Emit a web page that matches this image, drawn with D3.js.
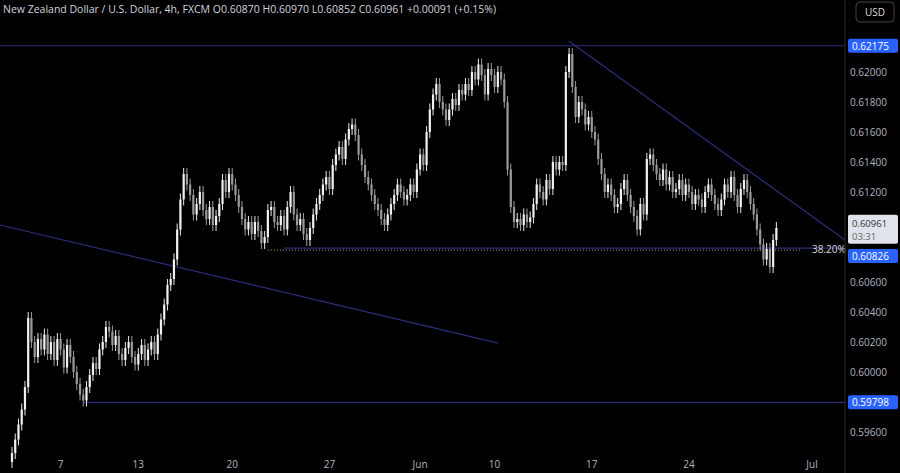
<!DOCTYPE html><html><head><meta charset="utf-8"><script src="https://cdn.jsdelivr.net/npm/d3@7"></script>
<style>body{margin:0;background:#000}svg{display:block}text{font-family:"Open Sans",sans-serif}</style></head><body><svg width="900" height="473"></svg>
<script>
const closes=[0.5946,0.5955,0.5965,0.5975,0.5990,0.6036,0.6020,0.6010,0.6022,0.6015,
0.6025,0.6012,0.6020,0.6008,0.6022,0.6015,0.6003,0.6018,0.6010,0.6000,
0.5992,0.5985,0.5981,0.5990,0.5998,0.6006,0.6002,0.6015,0.6020,0.6030,
0.6027,0.6018,0.6024,0.6012,0.6008,0.6016,0.6020,0.6010,0.6005,0.6012,
0.6018,0.6008,0.6015,0.6020,0.6012,0.6025,0.6035,0.6045,0.6058,0.6062,
0.6075,0.6095,0.6115,0.6132,0.6125,0.6118,0.6105,0.6112,0.6120,0.6108,
0.6102,0.6110,0.6098,0.6104,0.6112,0.6128,0.6120,0.6132,0.6125,0.6118,
0.6110,0.6102,0.6095,0.6100,0.6092,0.6100,0.6094,0.6086,0.6090,0.6108,
0.6110,0.6100,0.6098,0.6104,0.6095,0.6110,0.6120,0.6105,0.6098,0.6102,
0.6092,0.6088,0.6096,0.6105,0.6112,0.6118,0.6125,0.6130,0.6122,0.6138,
0.6145,0.6150,0.6142,0.6155,0.6162,0.6165,0.6158,0.6145,0.6138,0.6130,
0.6125,0.6118,0.6112,0.6108,0.6102,0.6098,0.6105,0.6112,0.6118,0.6125,
0.6120,0.6115,0.6118,0.6125,0.6120,0.6135,0.6145,0.6138,0.6160,0.6175,
0.6185,0.6192,0.6180,0.6175,0.6168,0.6175,0.6182,0.6178,0.6188,0.6185,
0.6192,0.6188,0.6200,0.6195,0.6205,0.6198,0.6185,0.6202,0.6198,0.6190,
0.6200,0.6195,0.6180,0.6135,0.6110,0.6100,0.6102,0.6098,0.6105,0.6100,
0.6103,0.6112,0.6125,0.6120,0.6115,0.6128,0.6122,0.6140,0.6135,0.6140,
0.6138,0.6200,0.6212,0.6190,0.6170,0.6180,0.6175,0.6165,0.6170,0.6160,
0.6155,0.6142,0.6132,0.6120,0.6125,0.6118,0.6110,0.6112,0.6122,0.6128,
0.6118,0.6110,0.6104,0.6095,0.6112,0.6105,0.6142,0.6145,0.6138,0.6132,
0.6128,0.6135,0.6125,0.6130,0.6120,0.6122,0.6128,0.6118,0.6125,0.6120,
0.6112,0.6118,0.6115,0.6110,0.6120,0.6125,0.6118,0.6112,0.6108,0.6115,
0.6125,0.6120,0.6130,0.6118,0.6110,0.6122,0.6128,0.6120,0.6112,0.6105,
0.6095,0.6085,0.6075,0.6082,0.6070,0.6088,0.6096];
const firstOpen=0.5940, wick=0.0004;
const xTickIdx=[15,39,68,98,126,149,179,209,247];
const xTickLabels=["7","13","20","27","Jun","10","17","24","Jul"];
const yTicks=[0.596,0.600,0.602,0.604,0.606,0.612,0.614,0.616,0.618,0.620];
const levels={top:0.62175,bottom:0.59798,fib:0.60826,last:0.60961};

const svg=d3.select("svg");
const W=845;
const x=d3.scaleLinear().domain([0,247]).range([12,812]);
const y=d3.scaleLinear().domain([0.596,0.620]).range([432,72]);
const line="#2b2f7a";
svg.append("line").attr("x1",0).attr("x2",W).attr("y1",y(levels.top)).attr("y2",y(levels.top)).attr("stroke",line).attr("stroke-width",1.2);
svg.append("line").attr("x1",x(22)).attr("x2",W).attr("y1",y(levels.bottom)).attr("y2",y(levels.bottom)).attr("stroke",line).attr("stroke-width",1.2);
svg.append("line").attr("x1",x(79)).attr("x2",800).attr("y1",y(levels.fib)+2).attr("y2",y(levels.fib)+2).attr("stroke","#aaa").attr("stroke-dasharray","1,2");
svg.append("line").attr("x1",x(84)).attr("x2",W).attr("y1",y(levels.fib)).attr("y2",y(levels.fib)).attr("stroke",line).attr("stroke-width",1.2);
svg.append("text").attr("x",812).attr("y",y(levels.fib)+5).attr("fill","#ddd").attr("font-size",10).text("38.20%");
svg.append("line").attr("x1",x(172)).attr("y1",y(0.62205)).attr("x2",W).attr("y2",y(0.6088)).attr("stroke",line).attr("stroke-width",1.2);
svg.append("line").attr("x1",0).attr("y1",y(0.6098)).attr("x2",498).attr("y2",y(0.60193)).attr("stroke",line).attr("stroke-width",1.2);
const data=closes.map((c,i)=>{const o=i?closes[i-1]:firstOpen;return{i,o,c,h:Math.max(o,c)+wick,l:Math.min(o,c)-wick};});
const g=svg.append("g");
g.selectAll("line.w").data(data).join("line").attr("x1",d=>x(d.i)).attr("x2",d=>x(d.i)).attr("y1",d=>y(d.h)).attr("y2",d=>y(d.l)).attr("stroke",d=>d.c>=d.o?"#e8e8e8":"#9a9a9a");
g.selectAll("rect").data(data).join("rect").attr("x",d=>x(d.i)-1.1).attr("width",2.2).attr("y",d=>y(Math.max(d.o,d.c))).attr("height",d=>Math.max(1,Math.abs(y(d.o)-y(d.c)))).attr("fill",d=>d.c>=d.o?"#f0f0f0":"#9a9a9a");
svg.append("line").attr("x1",W).attr("x2",W).attr("y1",0).attr("y2",473).attr("stroke","#2a2a2a");
svg.selectAll("text.yt").data(yTicks).join("text").attr("x",850).attr("y",d=>y(d)+4).attr("fill","#b2b5be").attr("font-size",10).text(d=>d.toFixed(5));
function tag(cy,txt){svg.append("rect").attr("x",848).attr("y",cy-7).attr("width",50).attr("height",14).attr("rx",2).attr("fill","#2962ff");
 svg.append("text").attr("x",852).attr("y",cy+4).attr("fill","#fff").attr("font-size",10).text(txt);}
tag(y(levels.top),"0.62175");
tag(y(levels.bottom),"0.59798");
svg.append("rect").attr("x",848).attr("y",y(levels.last)-13).attr("width",50).attr("height",29).attr("rx",2).attr("fill","#e0e3eb");
svg.append("text").attr("x",852).attr("y",y(levels.last)-1).attr("fill","#333").attr("font-size",9.5).text("0.60961");
svg.append("text").attr("x",852).attr("y",y(levels.last)+12).attr("fill","#666").attr("font-size",9.5).text("03:31");
tag(y(levels.fib)+8,"0.60826");
svg.append("rect").attr("x",856).attr("y",2).attr("width",38).attr("height",20).attr("rx",4).attr("fill","#000").attr("stroke","#444");
svg.append("text").attr("x",875).attr("y",16).attr("text-anchor","middle").attr("fill","#ddd").attr("font-size",10).text("USD");
svg.selectAll("text.xt").data(xTickIdx).join("text").attr("x",d=>x(d)).attr("y",468).attr("text-anchor","middle").attr("fill","#b2b5be").attr("font-size",10).text((d,i)=>xTickLabels[i]);
const hd=svg.append("text").attr("x",3).attr("y",13).attr("font-size",10.5).attr("fill","#d1d4dc");
hd.append("tspan").text("New Zealand Dollar / U.S. Dollar, 4h, FXCM  ");
[["O","0.60870"],["H","0.60970"],["L","0.60852"],["C","0.60961"]].forEach(([k,v])=>{hd.append("tspan").text(" "+k);hd.append("tspan").text(v+" ");});
hd.append("tspan").text(" +0.00091 (+0.15%)");
</script></body></html>
